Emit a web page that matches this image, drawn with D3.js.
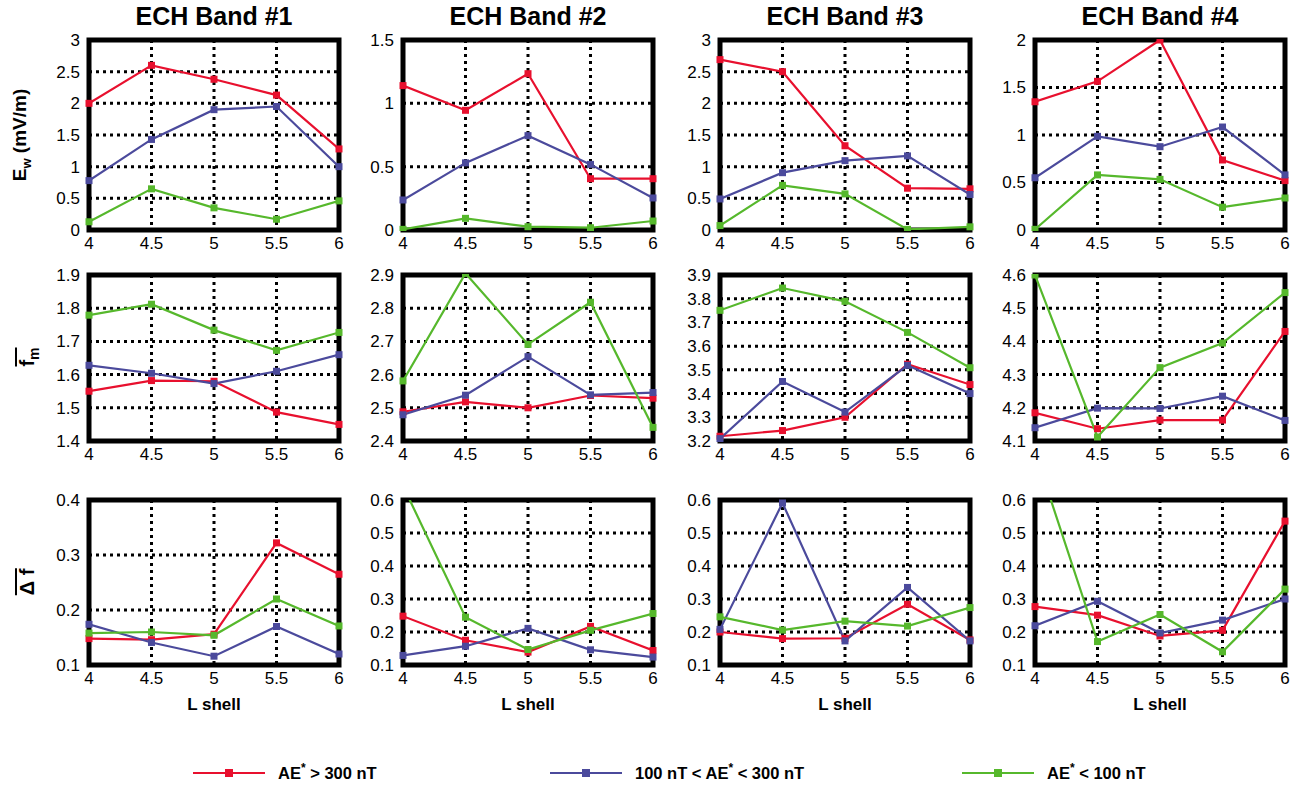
<!DOCTYPE html>
<html>
<head>
<meta charset="utf-8">
<script src="https://cdn.jsdelivr.net/npm/d3@7"></script>
<style>
  body { margin: 0; background: #fff; }
  text { font-family: "Liberation Sans", Arial, sans-serif; }
</style>
</head>
<body>
<svg id="chart" width="1304" height="794"></svg>
<script>
// L shell bins and band titles
const lShell = [4, 4.5, 5, 5.5, 6];
const bandNames = ["ECH Band #1", "ECH Band #2", "ECH Band #3", "ECH Band #4"];
const seriesColors = ["#e8102e", "#4b4a9c", "#56b82c"];

// wave amplitude Ew (mV/m), one row per band
const ewRed   = [[2.0, 2.6, 2.38, 2.13, 1.28], [1.14, 0.945, 1.234, 0.405, 0.405], [2.69, 2.5, 1.33, 0.66, 0.65], [1.35, 1.565, 2.0, 0.737, 0.52]];
const ewBlue  = [[0.78, 1.43, 1.9, 1.95, 1.0], [0.237, 0.53, 0.745, 0.518, 0.253], [0.49, 0.905, 1.095, 1.17, 0.56], [0.55, 0.986, 0.877, 1.084, 0.58]];
const ewGreen = [[0.13, 0.65, 0.35, 0.17, 0.46], [0.005, 0.092, 0.026, 0.018, 0.071], [0.07, 0.705, 0.57, 0.01, 0.05], [0.007, 0.58, 0.533, 0.24, 0.337]];

// mean normalized frequency fm
const fmRed   = [[1.55, 1.582, 1.58, 1.487, 1.45], [2.488, 2.518, 2.5, 2.537, 2.529], [3.22, 3.244, 3.3, 3.524, 3.438], [4.185, 4.137, 4.163, 4.163, 4.43]];
const fmBlue  = [[1.628, 1.604, 1.573, 1.61, 1.66], [2.479, 2.538, 2.654, 2.539, 2.546], [3.21, 3.451, 3.322, 3.519, 3.4], [4.14, 4.199, 4.198, 4.235, 4.162]];
const fmGreen = [[1.779, 1.812, 1.734, 1.673, 1.727], [2.581, 2.905, 2.691, 2.818, 2.441], [3.751, 3.845, 3.789, 3.658, 3.509], [4.6, 4.112, 4.321, 4.395, 4.547]];

// mean bandwidth delta f
const dfRed   = [[0.148, 0.146, 0.156, 0.322, 0.265], [0.248, 0.175, 0.139, 0.217, 0.144], [0.2, 0.18, 0.181, 0.284, 0.176], [0.277, 0.251, 0.188, 0.205, 0.536]];
const dfBlue  = [[0.174, 0.141, 0.116, 0.17, 0.12], [0.129, 0.157, 0.211, 0.146, 0.124], [0.208, 0.591, 0.173, 0.335, 0.173], [0.219, 0.293, 0.197, 0.236, 0.3]];
const dfGreen = [[0.158, 0.16, 0.154, 0.22, 0.171], [0.643, 0.245, 0.147, 0.205, 0.256], [0.246, 0.206, 0.233, 0.218, 0.274], [0.746, 0.171, 0.253, 0.14, 0.33]];

// y tick labels per panel
const ewTicks = [[0, 0.5, 1, 1.5, 2, 2.5, 3], [0, 0.5, 1, 1.5], [0, 0.5, 1, 1.5, 2, 2.5, 3], [0, 0.5, 1, 1.5, 2]];
const fmTicks = [[1.4, 1.5, 1.6, 1.7, 1.8, 1.9], [2.4, 2.5, 2.6, 2.7, 2.8, 2.9], [3.2, 3.3, 3.4, 3.5, 3.6, 3.7, 3.8, 3.9], [4.1, 4.2, 4.3, 4.4, 4.5, 4.6]];
const dfTicks = [[0.1, 0.2, 0.3, 0.4], [0.1, 0.2, 0.3, 0.4, 0.5, 0.6], [0.1, 0.2, 0.3, 0.4, 0.5, 0.6], [0.1, 0.2, 0.3, 0.4, 0.5, 0.6]];

const svg = d3.select("#chart");

const colLeft = [89, 403, 720, 1035];
const panelW = 250;
const rows = [
  {top: 40, bottom: 230, series: [ewRed, ewBlue, ewGreen], ticks: ewTicks},
  {top: 275, bottom: 441, series: [fmRed, fmBlue, fmGreen], ticks: fmTicks},
  {top: 500, bottom: 665, series: [dfRed, dfBlue, dfGreen], ticks: dfTicks}
];

const fmtTick = d => String(+d.toFixed(2));
let clipId = 0;

rows.forEach((row, r) => {
  colLeft.forEach((left, c) => {
    const ticks = row.ticks[c];
    const x = d3.scaleLinear().domain([4, 6]).range([left, left + panelW]);
    const y = d3.scaleLinear().domain([ticks[0], ticks[ticks.length - 1]]).range([row.bottom, row.top]);
    const g = svg.append("g");

    // dotted grid
    g.append("g").selectAll("line").data(lShell.slice(1, -1)).join("line")
      .attr("x1", d => x(d)).attr("x2", d => x(d))
      .attr("y1", row.top).attr("y2", row.bottom)
      .attr("stroke", "#000").attr("stroke-width", 3).attr("stroke-dasharray", "3,4");
    g.append("g").selectAll("line").data(ticks.slice(1, -1)).join("line")
      .attr("y1", d => y(d)).attr("y2", d => y(d))
      .attr("x1", left).attr("x2", left + panelW)
      .attr("stroke", "#000").attr("stroke-width", 3).attr("stroke-dasharray", "3,4");

    // thick frame
    g.append("rect").attr("x", left).attr("y", row.top)
      .attr("width", panelW).attr("height", row.bottom - row.top)
      .attr("fill", "none").attr("stroke", "#000").attr("stroke-width", 5);

    // clips: lines to the box, markers a little beyond it
    const id = "clip" + (clipId++);
    svg.append("clipPath").attr("id", id).append("rect")
      .attr("x", left).attr("y", row.top).attr("width", panelW).attr("height", row.bottom - row.top);
    const mid = "clip" + (clipId++);
    svg.append("clipPath").attr("id", mid).append("rect")
      .attr("x", left - 4).attr("y", row.top - 1).attr("width", panelW + 8).attr("height", row.bottom - row.top + 2);
    const lg = g.append("g").attr("clip-path", `url(#${id})`);
    const mg = g.append("g").attr("clip-path", `url(#${mid})`);

    const line = d3.line().x((d, i) => x(lShell[i])).y(d => y(d));
    row.series.forEach((s, k) => {
      const vals = s[c];
      lg.append("path").datum(vals).attr("d", line)
        .attr("fill", "none").attr("stroke", seriesColors[k]).attr("stroke-width", 2.2);
      mg.selectAll(null).data(vals).join("rect")
        .attr("x", (d, i) => x(lShell[i]) - 3.5).attr("y", d => y(d) - 3.5)
        .attr("width", 7).attr("height", 7).attr("fill", seriesColors[k]);
    });

    // y tick labels
    g.append("g").selectAll("text").data(ticks).join("text")
      .attr("x", left - 9).attr("y", d => y(d)).attr("dy", "0.35em")
      .attr("text-anchor", "end").attr("font-size", 17).text(fmtTick);

    // x tick labels
    g.append("g").selectAll("text").data(lShell).join("text")
      .attr("x", d => x(d)).attr("y", row.bottom + 19)
      .attr("text-anchor", "middle").attr("font-size", 17).text(fmtTick);

    if (r === 0) {
      svg.append("text").attr("x", left + panelW / 2).attr("y", 25)
        .attr("text-anchor", "middle").attr("font-size", 25).attr("font-weight", "bold")
        .text(bandNames[c]);
    }
    if (r === 2) {
      svg.append("text").attr("x", left + panelW / 2).attr("y", row.bottom + 45)
        .attr("text-anchor", "middle").attr("font-size", 17).attr("font-weight", "bold")
        .text("L shell");
    }
  });
});

// row labels
const ewLab = svg.append("text").attr("transform", "translate(26,135) rotate(-90)")
  .attr("text-anchor", "middle").attr("font-size", 19).attr("font-weight", "bold");
ewLab.append("tspan").text("E");
ewLab.append("tspan").attr("font-size", 13).attr("dy", 5).text("w");
ewLab.append("tspan").attr("dy", -5).text(" (mV/m)");

function overLabel(cy, parts) {
  const t = svg.append("text").attr("transform", `translate(34,${cy}) rotate(-90)`)
    .attr("text-anchor", "middle").attr("font-size", 20).attr("font-weight", "bold");
  parts(t);
  const bb = t.node().getBBox();
  svg.append("line").attr("transform", `translate(34,${cy}) rotate(-90)`)
    .attr("x1", bb.x).attr("x2", bb.x + bb.width)
    .attr("y1", -18).attr("y2", -18).attr("stroke", "#000").attr("stroke-width", 2);
}
overLabel(357, t => {
  t.append("tspan").text("f");
  t.append("tspan").attr("font-size", 14).attr("dy", 5).text("m");
});
overLabel(582, t => {
  t.append("tspan").text("\u0394 f");
});

// legend
const legendItems = [
  {x: 193, color: seriesColors[0], parts: [["AE", 0], ["*", -7], [" > 300 nT", 7]]},
  {x: 550, color: seriesColors[1], parts: [["100 nT < AE", 0], ["*", -7], [" < 300 nT", 7]]},
  {x: 962, color: seriesColors[2], parts: [["AE", 0], ["*", -7], [" < 100 nT", 7]]}
];
legendItems.forEach(it => {
  svg.append("line").attr("x1", it.x).attr("x2", it.x + 72).attr("y1", 773).attr("y2", 773)
    .attr("stroke", it.color).attr("stroke-width", 2.2);
  svg.append("rect").attr("x", it.x + 32).attr("y", 769).attr("width", 8).attr("height", 8).attr("fill", it.color);
  const t = svg.append("text").attr("x", it.x + 85).attr("y", 779)
    .attr("font-size", 16.5).attr("font-weight", "bold");
  it.parts.forEach(p => {
    t.append("tspan").attr("dy", p[1]).attr("font-size", p[0] === "*" ? 12 : 16.5).text(p[0]);
  });
});
</script>
</body>
</html>
